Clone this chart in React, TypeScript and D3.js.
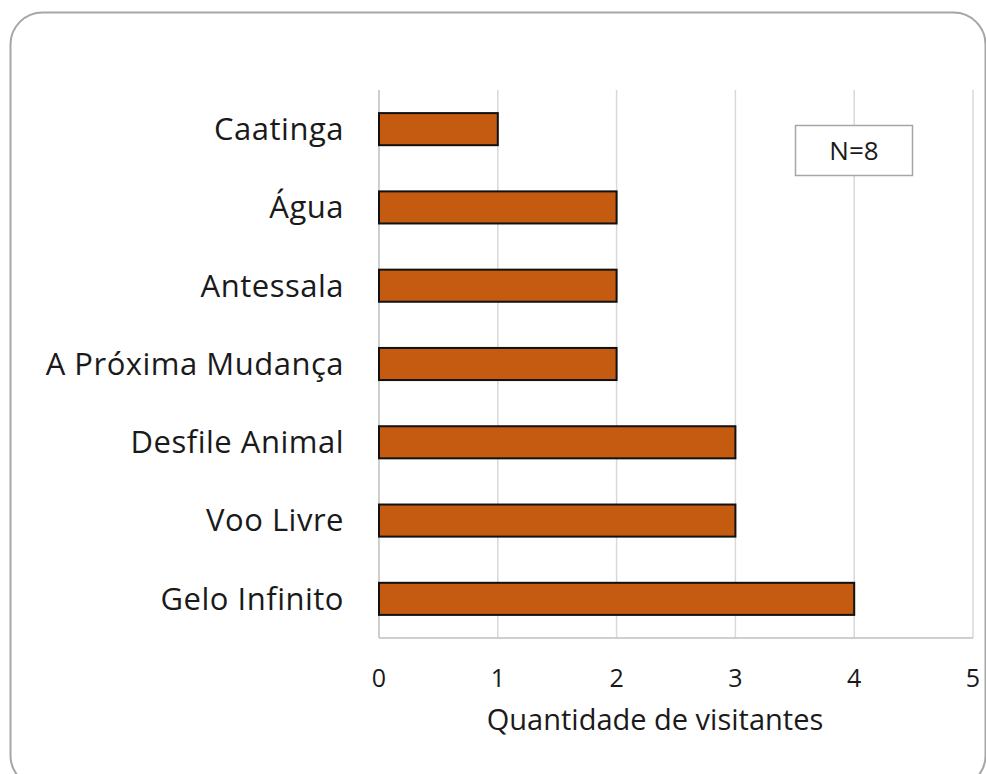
import { useEffect, useRef } from 'react';
import * as d3 from 'd3';

const categories = ['Caatinga', 'Água', 'Antessala', 'A Próxima Mudança', 'Desfile Animal', 'Voo Livre', 'Gelo Infinito'];
const visitors = [1, 2, 2, 2, 3, 3, 4];
const xTicks = [0, 1, 2, 3, 4, 5];
const axisTitle = 'Quantidade de visitantes';
const noteLabel = 'N=8';

export default function App() {
  const svgRef = useRef<SVGSVGElement>(null);

  useEffect(() => {
    if (!svgRef.current) return;
    const width = 986;
    const height = 774;
    const font = '"Open Sans", Lato, sans-serif';

    const svg = d3.select(svgRef.current);
    svg.selectAll('*').remove();
    svg.attr('width', width).attr('height', height).attr('viewBox', `0 0 ${width} ${height}`);

    // outer rounded frame
    svg.append('rect')
      .attr('x', 10.5).attr('y', 12.5)
      .attr('width', 975).attr('height', 775)
      .attr('rx', 32)
      .attr('fill', '#fff')
      .attr('stroke', '#a6a6a6')
      .attr('stroke-width', 2);

    const x = d3.scaleLinear().domain([0, 5]).range([379, 973]);
    const y = d3.scaleBand<string>().domain(categories).range([90, 638]).paddingInner(0.59).paddingOuter(0.295);

    // gridlines
    svg.append('g')
      .selectAll('line')
      .data(xTicks.slice(1))
      .join('line')
      .attr('x1', d => x(d)).attr('x2', d => x(d))
      .attr('y1', 90).attr('y2', 638)
      .attr('stroke', '#d9d9d9')
      .attr('stroke-width', 1.5);

    // axis lines
    svg.append('line')
      .attr('x1', x(0)).attr('x2', x(0)).attr('y1', 90).attr('y2', 638)
      .attr('stroke', '#bfbfbf').attr('stroke-width', 1.5);
    svg.append('line')
      .attr('x1', x(0)).attr('x2', x(5)).attr('y1', 638).attr('y2', 638)
      .attr('stroke', '#bfbfbf').attr('stroke-width', 1.5);

    // bars
    svg.append('g')
      .selectAll('rect')
      .data(categories)
      .join('rect')
      .attr('x', x(0))
      .attr('y', d => y(d)!)
      .attr('width', (d, i) => x(visitors[i]) - x(0))
      .attr('height', y.bandwidth())
      .attr('fill', '#c55a11')
      .attr('stroke', '#111')
      .attr('stroke-width', 2);

    // category labels
    svg.append('g')
      .selectAll('text')
      .data(categories)
      .join('text')
      .attr('x', 344)
      .attr('y', d => y(d)! + y.bandwidth() / 2)
      .attr('dy', '0.35em')
      .attr('text-anchor', 'end')
      .style('font-family', font)
      .style('font-size', '31px')
      .style('letter-spacing', '0.5px')
      .style('fill', '#1a1a1a')
      .text(d => d);

    // tick labels
    svg.append('g')
      .selectAll('text')
      .data(xTicks)
      .join('text')
      .attr('x', d => x(d))
      .attr('y', 678)
      .attr('dy', '0.35em')
      .attr('text-anchor', 'middle')
      .style('font-family', font)
      .style('font-size', '25px')
      .style('fill', '#1a1a1a')
      .text(d => d);

    svg.append('text')
      .attr('x', 655).attr('y', 720)
      .attr('dy', '0.35em')
      .attr('text-anchor', 'middle')
      .style('font-family', font)
      .style('font-size', '29px')
      .style('fill', '#1a1a1a')
      .text(axisTitle);

    // N box
    svg.append('rect')
      .attr('x', 795.5).attr('y', 125.5)
      .attr('width', 117).attr('height', 50)
      .attr('fill', '#fff')
      .attr('stroke', '#a6a6a6')
      .attr('stroke-width', 1.5);
    svg.append('text')
      .attr('x', 854).attr('y', 151)
      .attr('dy', '0.35em')
      .attr('text-anchor', 'middle')
      .style('font-family', font)
      .style('font-size', '26px')
      .style('fill', '#1a1a1a')
      .text(noteLabel);
  }, []);

  return (
    <div style={{ position: 'absolute', left: 0, top: 0, width: 986, height: 774, overflow: 'hidden' }}>
      <svg ref={svgRef} style={{ display: 'block' }}></svg>
    </div>
  );
}
